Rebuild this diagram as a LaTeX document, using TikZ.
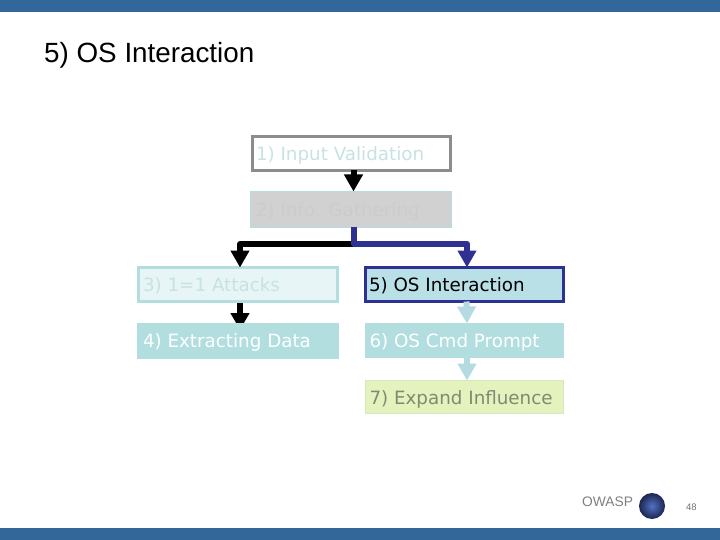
\documentclass[tikz,border=0pt]{standalone}
\usepackage{fontspec}
\setmainfont{Liberation Sans}
\newfontfamily\boxfont{DejaVu Sans}
\usetikzlibrary{arrows.meta,backgrounds}
\definecolor{barblue}{HTML}{336699}
\definecolor{navy}{HTML}{2E3192}
\definecolor{pale}{HTML}{B2DEE0}
\definecolor{paletxt}{HTML}{C8E2E4}
\definecolor{arrowpale}{HTML}{B4DAE2}
\definecolor{limefill}{HTML}{E4F2BE}
\definecolor{limeedge}{HTML}{D6E8BC}
\definecolor{limetext}{HTML}{7F8A70}
\definecolor{fivefill}{HTML}{B9E0E6}
\definecolor{globein}{HTML}{5272C4}
\definecolor{globeout}{HTML}{1C2650}
\tikzset{
  flowbox/.style={draw=pale,line width=#1,outer sep=0pt,inner xsep=0pt,inner ysep=0pt,align=left,
    font=\boxfont\fontsize{18.3}{20}\selectfont,anchor=center},
  flowbox/.default=1pt,
  bar/.style={fill=barblue,draw=none},
  conn/.style={line width=6pt,-{Triangle[width=18pt,length=17pt]},line join=round},
}
\newcommand{\boxtext}[1]{\parbox[c]{192pt}{\hspace*{1pt}\raisebox{-9.4pt}[0pt][0pt]{#1}}}
\begin{document}
\begin{tikzpicture}[x=1pt,y=-1pt]
\useasboundingbox (0,0) rectangle (720,540);
\begin{scope}[on background layer]
\fill[white] (0,0) rectangle (720,540);
\fill[bar] (0,0) rectangle (720,12);
\fill[bar] (0,528) rectangle (720,540);
\end{scope}
\node[anchor=base west,inner sep=0pt,font=\fontsize{27.8}{30}\selectfont] (title) at (44,62.5) {5) OS Interaction};

\node[flowbox=3pt,draw=gray!90,minimum width=198pt,minimum height=34pt,fill=white,text=paletxt] (b1) at (351,153.5) {\boxtext{1) Input Validation}};
\node[flowbox=1pt,fill=black!18,minimum width=201pt,minimum height=36pt,text=black!20] (b2) at (351,209.5) {\boxtext{2) Info. Gathering}};
\node[flowbox=3pt,fill=pale!30,minimum width=199pt,minimum height=34pt,text=paletxt] (b3) at (238,284.5) {\boxtext{3) 1=1 Attacks}};
\node[flowbox=3pt,draw=navy,fill=fivefill,minimum width=198pt,minimum height=34pt,text=black] (b5) at (464,284.5) {\boxtext{5) OS Interaction}};
\node[flowbox=1pt,fill=pale,draw=pale,minimum width=201pt,minimum height=35pt,text=white] (b4) at (238,340.5) {\boxtext{4) Extracting Data}};
\node[flowbox=1pt,fill=pale,draw=pale,minimum width=198pt,minimum height=34pt,text=white] (b6) at (464.5,340.5) {\boxtext{6) OS Cmd Prompt}};
\node[flowbox=1pt,fill=limefill,draw=limeedge,minimum width=198pt,minimum height=33pt,text=limetext] (b7) at (464.5,397) {\boxtext{7) Expand Influence}};

\draw[conn] ([xshift=2.5pt]b1.south) -- ([xshift=2.5pt]b1.south |- b2.north);
\draw[conn] ([xshift=2.5pt]b2.south) |- (240,244) -- ([xshift=2pt]b3.north);
\draw[conn,draw=navy] ([xshift=3pt]b2.south) |- (467,244) -- ([xshift=3pt]b5.north);
\begin{scope}[on background layer]
\draw[conn] ([xshift=2pt]b3.south) -- ([xshift=2pt,yshift=-7pt]b4.north);
\end{scope}
\draw[conn,draw=arrowpale] ([xshift=2.5pt]b5.south) -- ([xshift=2.5pt]b6.north);
\draw[conn,draw=arrowpale] ([xshift=2.5pt]b6.south) -- ([xshift=2.5pt]b7.north);

\node[anchor=base west,inner sep=0pt,text=black!50,font=\fontsize{13.8}{15}\selectfont] (owasp) at (582,506) {OWASP};
\node[circle,minimum size=26pt,inner sep=0pt,inner color=globein,outer color=globeout] (globe) at (652,506) {};
\node[anchor=base west,inner sep=0pt,text=black!55,font=\fontsize{9.5}{10}\selectfont] (page) at (686,510) {48};
\end{tikzpicture}
\end{document}
